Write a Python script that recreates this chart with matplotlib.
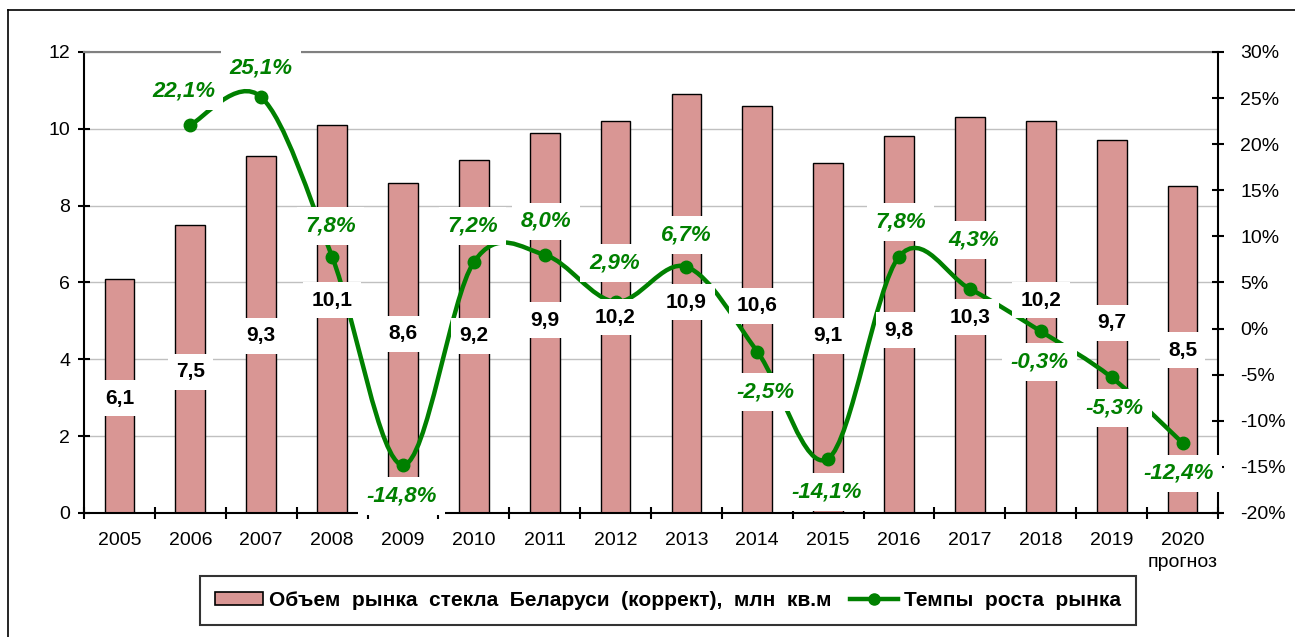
import numpy as np
import matplotlib
matplotlib.use("Agg")
import matplotlib.pyplot as plt
from matplotlib.path import Path
from matplotlib.patches import PathPatch, Patch
from matplotlib.lines import Line2D

plt.rcParams['font.family'] = ['Liberation Sans', 'DejaVu Sans']

# данные
years = ['2005', '2006', '2007', '2008', '2009', '2010', '2011', '2012',
         '2013', '2014', '2015', '2016', '2017', '2018', '2019', '2020\nпрогноз']
volume = [6.1, 7.5, 9.3, 10.1, 8.6, 9.2, 9.9, 10.2, 10.9, 10.6, 9.1, 9.8, 10.3, 10.2, 9.7, 8.5]
growth = [22.1, 25.1, 7.8, -14.8, 7.2, 8.0, 2.9, 6.7, -2.5, -14.1, 7.8, 4.3, -0.3, -5.3, -12.4]

bar_name = 'Объем  рынка  стекла  Беларуси  (коррект),  млн  кв.м'
line_name = 'Темпы  роста  рынка'

bar_color = '#D99694'
green = '#008000'

# где стоят подписи (y для столбцов, смещения в пунктах для процентов)
bar_label_y = [2.99, 3.67, 4.61, 5.54, 4.66, 4.61, 5.02, 5.10, 5.49, 5.39, 4.61, 4.76, 5.10, 5.54, 4.95, 4.24]
pct_dx = [-5, 0, -1, -1, -1, 1, -1, 0, 6, -1, 1, 3, -1, 2, -3]
pct_dy = [24, 21, 22, -22, 26, 24, 28, 23, -29, -24, 25, 35, -22, -22, -22]

fig = plt.figure(figsize=(12.95, 6.37), dpi=100)
ax = fig.add_axes([0.0649, 0.1947, 0.8756, 0.7237])
ax2 = ax.twinx()

x = np.arange(len(years))
ax.bar(x, volume, width=0.42, color=bar_color, edgecolor='black', linewidth=1, zorder=2)
ax.set_xlim(-0.5, len(years) - 0.5)
ax.set_ylim(0, 12)
ax.set_yticks(range(0, 13, 2))
ax.grid(axis='y', color='#C0C0C0', linewidth=1, zorder=0)
ax.set_axisbelow(True)

# подписи категорий между делениями
ax.set_xticks(np.arange(-0.5, len(years), 1))
ax.set_xticklabels([])
ax.set_xticks(x, minor=True)
ax.set_xticklabels(years, minor=True, fontsize=14)
ax.tick_params(axis='x', which='minor', length=0, pad=14)
ax.tick_params(axis='x', which='major', direction='inout', length=8, width=1.5)
ax.tick_params(axis='y', direction='inout', length=8, width=1.5, labelsize=14, pad=6)
for lbl in ax.get_xticklabels(minor=True):
    lbl.set_linespacing(1.35)

ax.spines['top'].set_color('#808080')
ax.spines['top'].set_linewidth(1.5)
ax.spines['left'].set_linewidth(1.5)
ax.spines['bottom'].set_linewidth(1.5)
ax.spines['right'].set_visible(False)

ax2.set_ylim(-20, 30)
ax2.set_yticks(range(-20, 31, 5))
ax2.set_yticklabels([f'{v}%' for v in range(-20, 31, 5)])
ax2.tick_params(axis='y', direction='inout', length=8, width=1.5, labelsize=14, pad=12)
for s in ['top', 'left', 'bottom']:
    ax2.spines[s].set_visible(False)
ax2.spines['right'].set_linewidth(1.5)

# сглаженная линия как в Excel (кривые Безье)
gx = x[1:]
pts = np.column_stack([gx, growth]).astype(float)
ext = np.vstack([pts[0], pts, pts[-1]])
verts = [tuple(pts[0])]
codes = [Path.MOVETO]
for i in range(len(pts) - 1):
    p0, p1, p2, p3 = ext[i], ext[i + 1], ext[i + 2], ext[i + 3]
    c1 = p1 + (p2 - p0) / 6
    c2 = p2 - (p3 - p1) / 6
    verts += [tuple(c1), tuple(c2), tuple(p2)]
    codes += [Path.CURVE4] * 3
ax2.add_patch(PathPatch(Path(verts, codes), facecolor='none', edgecolor=green,
                        linewidth=3.2, zorder=3, capstyle='round'))
ax2.plot(gx, growth, linestyle='none', marker='o', markersize=9, color=green, zorder=4)

# подписи столбцов
for xi, v, ly in zip(x, volume, bar_label_y):
    ax2.text(xi, ly, f'{v:.1f}'.replace('.', ','), transform=ax.transData,
             ha='center', va='center', fontsize=15, fontweight='bold', color='black',
             bbox=dict(facecolor='white', edgecolor='none', pad=6), zorder=6)

# подписи процентов
for xi, v, dx, dy in zip(gx, growth, pct_dx, pct_dy):
    ax2.annotate(f'{v:.1f}%'.replace('.', ','), (xi, v), xytext=(dx, dy),
                 textcoords='offset points', ha='center', va='center',
                 fontsize=16, fontweight='bold', fontstyle='italic', color=green,
                 bbox=dict(facecolor='white', edgecolor='none', pad=6), zorder=6)

handles = [Patch(facecolor=bar_color, edgecolor='black', linewidth=1.2),
           Line2D([], [], color=green, linewidth=3.2, marker='o', markersize=8)]
leg = fig.legend(handles, [bar_name, line_name], loc='center', bbox_to_anchor=(0.5158, 0.0573),
                 ncol=2, frameon=True, fancybox=False, edgecolor='black',
                 prop={'size': 15, 'weight': 'bold'}, handlelength=2.3, handleheight=0.6,
                 handletextpad=0.3, columnspacing=0.9, borderpad=0.7, borderaxespad=0)
leg.get_frame().set_linewidth(1.5)

# рамка диаграммы
fig.add_artist(Line2D([8 / 1295, 8 / 1295], [0, 1 - 10 / 637], color='black', linewidth=1.2))
fig.add_artist(Line2D([8 / 1295, 1], [1 - 10 / 637, 1 - 10 / 637], color='black', linewidth=1.2))

fig.savefig('out.png', dpi=100)
